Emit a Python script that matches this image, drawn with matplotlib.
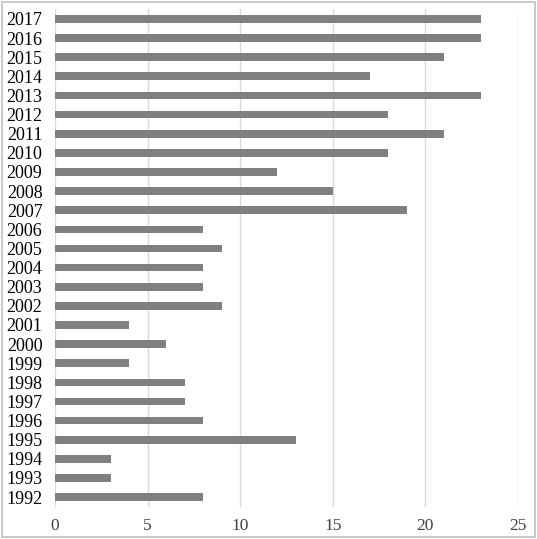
import matplotlib
matplotlib.use("Agg")
import matplotlib.pyplot as plt
from matplotlib.patches import Rectangle

years = [str(y) for y in range(1992, 2018)]
values = [8, 3, 3, 13, 8, 7, 7, 4, 6, 4, 9, 8, 8, 9, 8, 19, 15, 12, 18, 21, 18, 23, 17, 21, 23, 23]
xticks = [0, 5, 10, 15, 20, 25]

plt.rcParams['font.family'] = ['Liberation Serif', 'DejaVu Serif']

fig = plt.figure(figsize=(5.37, 5.39), dpi=100)
ax = fig.add_axes([0.1024, 0.060, 0.862, 0.9226])

ax.barh(range(len(years)), values, height=0.40, color='#808080', zorder=3)
ax.set_yticks(range(len(years)))
ax.set_yticklabels(years)
ax.set_ylim(-0.5, len(years) - 0.5)
ax.set_xlim(0, 25)
ax.set_xticks(xticks)
ax.set_xticklabels([str(t) for t in xticks])
ax.xaxis.grid(True, color='#d9d9d9', linewidth=1.0, zorder=0)
for s in ax.spines.values():
    s.set_visible(False)
ax.tick_params(axis='both', length=0, colors='#000000')
ax.tick_params(axis='y', pad=9, labelsize=13)
ax.tick_params(axis='x', pad=8, labelsize=12.5, labelcolor='#404040')

fig.patches.append(Rectangle((0.004, 0.004), 0.992, 0.992, transform=fig.transFigure,
                             fill=False, edgecolor='#bfbfbf', linewidth=1.2))

fig.savefig('out.png', dpi=100)
